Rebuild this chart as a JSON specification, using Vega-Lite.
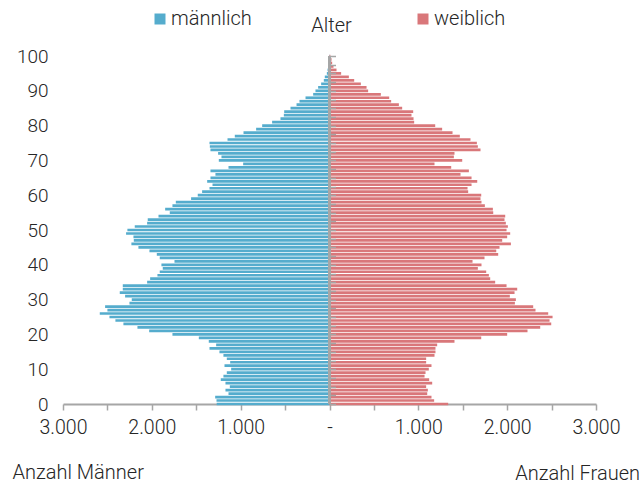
{
  "$schema": "https://vega.github.io/schema/vega-lite/v6.json",
  "width": 533,
  "height": 348,
  "autosize": {"type": "none"},
  "padding": {"left": 63, "top": 56, "right": 48, "bottom": 80},
  "background": "white",
  "config": {"font": "Roboto", "view": {"stroke": null}},
  "title": {"text": "Anzahl Frauen", "orient": "bottom", "anchor": "end", "frame": "group", "fontSize": 20, "fontWeight": 300, "color": "#262626", "dx": 44, "dy": -18, "offset": 0},
  "data": {"values": [
    {"Alter":100,"Geschlecht":"männlich","Anzahl":-5},{"Alter":99,"Geschlecht":"männlich","Anzahl":-8},{"Alter":98,"Geschlecht":"männlich","Anzahl":-12},{"Alter":97,"Geschlecht":"männlich","Anzahl":-16},{"Alter":96,"Geschlecht":"männlich","Anzahl":-22},
    {"Alter":95,"Geschlecht":"männlich","Anzahl":-30},{"Alter":94,"Geschlecht":"männlich","Anzahl":-53},{"Alter":93,"Geschlecht":"männlich","Anzahl":-64},{"Alter":92,"Geschlecht":"männlich","Anzahl":-94},{"Alter":91,"Geschlecht":"männlich","Anzahl":-128},
    {"Alter":90,"Geschlecht":"männlich","Anzahl":-158},{"Alter":89,"Geschlecht":"männlich","Anzahl":-184},{"Alter":88,"Geschlecht":"männlich","Anzahl":-270},{"Alter":87,"Geschlecht":"männlich","Anzahl":-338},{"Alter":86,"Geschlecht":"männlich","Anzahl":-371},
    {"Alter":85,"Geschlecht":"männlich","Anzahl":-439},{"Alter":84,"Geschlecht":"männlich","Anzahl":-510},{"Alter":83,"Geschlecht":"männlich","Anzahl":-514},{"Alter":82,"Geschlecht":"männlich","Anzahl":-552},{"Alter":81,"Geschlecht":"männlich","Anzahl":-646},
    {"Alter":80,"Geschlecht":"männlich","Anzahl":-758},{"Alter":79,"Geschlecht":"männlich","Anzahl":-826},{"Alter":78,"Geschlecht":"männlich","Anzahl":-968},{"Alter":77,"Geschlecht":"männlich","Anzahl":-1066},{"Alter":76,"Geschlecht":"männlich","Anzahl":-1148},
    {"Alter":75,"Geschlecht":"männlich","Anzahl":-1351},{"Alter":74,"Geschlecht":"männlich","Anzahl":-1347},{"Alter":73,"Geschlecht":"männlich","Anzahl":-1340},{"Alter":72,"Geschlecht":"männlich","Anzahl":-1254},{"Alter":71,"Geschlecht":"männlich","Anzahl":-1216},
    {"Alter":70,"Geschlecht":"männlich","Anzahl":-1246},{"Alter":69,"Geschlecht":"männlich","Anzahl":-972},{"Alter":68,"Geschlecht":"männlich","Anzahl":-1137},{"Alter":67,"Geschlecht":"männlich","Anzahl":-1340},{"Alter":66,"Geschlecht":"männlich","Anzahl":-1284},
    {"Alter":65,"Geschlecht":"männlich","Anzahl":-1340},{"Alter":64,"Geschlecht":"männlich","Anzahl":-1377},{"Alter":63,"Geschlecht":"männlich","Anzahl":-1317},{"Alter":62,"Geschlecht":"männlich","Anzahl":-1351},{"Alter":61,"Geschlecht":"männlich","Anzahl":-1434},
    {"Alter":60,"Geschlecht":"männlich","Anzahl":-1483},{"Alter":59,"Geschlecht":"männlich","Anzahl":-1558},{"Alter":58,"Geschlecht":"männlich","Anzahl":-1730},{"Alter":57,"Geschlecht":"männlich","Anzahl":-1768},{"Alter":56,"Geschlecht":"männlich","Anzahl":-1850},
    {"Alter":55,"Geschlecht":"männlich","Anzahl":-1798},{"Alter":54,"Geschlecht":"männlich","Anzahl":-1925},{"Alter":53,"Geschlecht":"männlich","Anzahl":-2046},{"Alter":52,"Geschlecht":"männlich","Anzahl":-2053},{"Alter":51,"Geschlecht":"männlich","Anzahl":-2192},
    {"Alter":50,"Geschlecht":"männlich","Anzahl":-2275},{"Alter":49,"Geschlecht":"männlich","Anzahl":-2290},{"Alter":48,"Geschlecht":"männlich","Anzahl":-2207},{"Alter":47,"Geschlecht":"männlich","Anzahl":-2203},{"Alter":46,"Geschlecht":"männlich","Anzahl":-2230},
    {"Alter":45,"Geschlecht":"männlich","Anzahl":-2151},{"Alter":44,"Geschlecht":"männlich","Anzahl":-2027},{"Alter":43,"Geschlecht":"männlich","Anzahl":-1944},{"Alter":42,"Geschlecht":"männlich","Anzahl":-1911},{"Alter":41,"Geschlecht":"männlich","Anzahl":-1745},
    {"Alter":40,"Geschlecht":"männlich","Anzahl":-1892},{"Alter":39,"Geschlecht":"männlich","Anzahl":-1877},{"Alter":38,"Geschlecht":"männlich","Anzahl":-1911},{"Alter":37,"Geschlecht":"männlich","Anzahl":-1937},{"Alter":36,"Geschlecht":"männlich","Anzahl":-2019},
    {"Alter":35,"Geschlecht":"männlich","Anzahl":-2053},{"Alter":34,"Geschlecht":"männlich","Anzahl":-2327},{"Alter":33,"Geschlecht":"männlich","Anzahl":-2327},{"Alter":32,"Geschlecht":"männlich","Anzahl":-2361},{"Alter":31,"Geschlecht":"männlich","Anzahl":-2301},
    {"Alter":30,"Geschlecht":"männlich","Anzahl":-2226},{"Alter":29,"Geschlecht":"männlich","Anzahl":-2252},{"Alter":28,"Geschlecht":"männlich","Anzahl":-2526},{"Alter":27,"Geschlecht":"männlich","Anzahl":-2500},{"Alter":26,"Geschlecht":"männlich","Anzahl":-2586},
    {"Alter":25,"Geschlecht":"männlich","Anzahl":-2477},{"Alter":24,"Geschlecht":"männlich","Anzahl":-2410},{"Alter":23,"Geschlecht":"männlich","Anzahl":-2320},{"Alter":22,"Geschlecht":"männlich","Anzahl":-2162},{"Alter":21,"Geschlecht":"männlich","Anzahl":-2030},
    {"Alter":20,"Geschlecht":"männlich","Anzahl":-1768},{"Alter":19,"Geschlecht":"männlich","Anzahl":-1471},{"Alter":18,"Geschlecht":"männlich","Anzahl":-1359},{"Alter":17,"Geschlecht":"männlich","Anzahl":-1276},{"Alter":16,"Geschlecht":"männlich","Anzahl":-1351},
    {"Alter":15,"Geschlecht":"männlich","Anzahl":-1239},{"Alter":14,"Geschlecht":"männlich","Anzahl":-1194},{"Alter":13,"Geschlecht":"männlich","Anzahl":-1156},{"Alter":12,"Geschlecht":"männlich","Anzahl":-1118},{"Alter":11,"Geschlecht":"männlich","Anzahl":-1182},
    {"Alter":10,"Geschlecht":"männlich","Anzahl":-1107},{"Alter":9,"Geschlecht":"männlich","Anzahl":-1156},{"Alter":8,"Geschlecht":"männlich","Anzahl":-1194},{"Alter":7,"Geschlecht":"männlich","Anzahl":-1224},{"Alter":6,"Geschlecht":"männlich","Anzahl":-1171},
    {"Alter":5,"Geschlecht":"männlich","Anzahl":-1122},{"Alter":4,"Geschlecht":"männlich","Anzahl":-1171},{"Alter":3,"Geschlecht":"männlich","Anzahl":-1137},{"Alter":2,"Geschlecht":"männlich","Anzahl":-1287},{"Alter":1,"Geschlecht":"männlich","Anzahl":-1272},
    {"Alter":0,"Geschlecht":"männlich","Anzahl":-1270},
    {"Alter":100,"Geschlecht":"weiblich","Anzahl":10},{"Alter":99,"Geschlecht":"weiblich","Anzahl":23},{"Alter":98,"Geschlecht":"weiblich","Anzahl":30},{"Alter":97,"Geschlecht":"weiblich","Anzahl":45},{"Alter":96,"Geschlecht":"weiblich","Anzahl":79},
    {"Alter":95,"Geschlecht":"weiblich","Anzahl":131},{"Alter":94,"Geschlecht":"weiblich","Anzahl":218},{"Alter":93,"Geschlecht":"weiblich","Anzahl":278},{"Alter":92,"Geschlecht":"weiblich","Anzahl":353},{"Alter":91,"Geschlecht":"weiblich","Anzahl":417},
    {"Alter":90,"Geschlecht":"weiblich","Anzahl":435},{"Alter":89,"Geschlecht":"weiblich","Anzahl":578},{"Alter":88,"Geschlecht":"weiblich","Anzahl":672},{"Alter":87,"Geschlecht":"weiblich","Anzahl":694},{"Alter":86,"Geschlecht":"weiblich","Anzahl":781},
    {"Alter":85,"Geschlecht":"weiblich","Anzahl":818},{"Alter":84,"Geschlecht":"weiblich","Anzahl":942},{"Alter":83,"Geschlecht":"weiblich","Anzahl":923},{"Alter":82,"Geschlecht":"weiblich","Anzahl":946},{"Alter":81,"Geschlecht":"weiblich","Anzahl":953},
    {"Alter":80,"Geschlecht":"weiblich","Anzahl":1190},{"Alter":79,"Geschlecht":"weiblich","Anzahl":1268},{"Alter":78,"Geschlecht":"weiblich","Anzahl":1385},{"Alter":77,"Geschlecht":"weiblich","Anzahl":1467},{"Alter":76,"Geschlecht":"weiblich","Anzahl":1587},
    {"Alter":75,"Geschlecht":"weiblich","Anzahl":1659},{"Alter":74,"Geschlecht":"weiblich","Anzahl":1670},{"Alter":73,"Geschlecht":"weiblich","Anzahl":1700},{"Alter":72,"Geschlecht":"weiblich","Anzahl":1407},{"Alter":71,"Geschlecht":"weiblich","Anzahl":1400},
    {"Alter":70,"Geschlecht":"weiblich","Anzahl":1494},{"Alter":69,"Geschlecht":"weiblich","Anzahl":1182},{"Alter":68,"Geschlecht":"weiblich","Anzahl":1370},{"Alter":67,"Geschlecht":"weiblich","Anzahl":1569},{"Alter":66,"Geschlecht":"weiblich","Anzahl":1475},
    {"Alter":65,"Geschlecht":"weiblich","Anzahl":1599},{"Alter":64,"Geschlecht":"weiblich","Anzahl":1663},{"Alter":63,"Geschlecht":"weiblich","Anzahl":1599},{"Alter":62,"Geschlecht":"weiblich","Anzahl":1554},{"Alter":61,"Geschlecht":"weiblich","Anzahl":1561},
    {"Alter":60,"Geschlecht":"weiblich","Anzahl":1708},{"Alter":59,"Geschlecht":"weiblich","Anzahl":1700},{"Alter":58,"Geschlecht":"weiblich","Anzahl":1711},{"Alter":57,"Geschlecht":"weiblich","Anzahl":1749},{"Alter":56,"Geschlecht":"weiblich","Anzahl":1839},
    {"Alter":55,"Geschlecht":"weiblich","Anzahl":1843},{"Alter":54,"Geschlecht":"weiblich","Anzahl":1978},{"Alter":53,"Geschlecht":"weiblich","Anzahl":1970},{"Alter":52,"Geschlecht":"weiblich","Anzahl":1985},{"Alter":51,"Geschlecht":"weiblich","Anzahl":2008},
    {"Alter":50,"Geschlecht":"weiblich","Anzahl":1993},{"Alter":49,"Geschlecht":"weiblich","Anzahl":2034},{"Alter":48,"Geschlecht":"weiblich","Anzahl":2000},{"Alter":47,"Geschlecht":"weiblich","Anzahl":1944},{"Alter":46,"Geschlecht":"weiblich","Anzahl":2042},
    {"Alter":45,"Geschlecht":"weiblich","Anzahl":1914},{"Alter":44,"Geschlecht":"weiblich","Anzahl":1877},{"Alter":43,"Geschlecht":"weiblich","Anzahl":1899},{"Alter":42,"Geschlecht":"weiblich","Anzahl":1745},{"Alter":41,"Geschlecht":"weiblich","Anzahl":1610},
    {"Alter":40,"Geschlecht":"weiblich","Anzahl":1711},{"Alter":39,"Geschlecht":"weiblich","Anzahl":1670},{"Alter":38,"Geschlecht":"weiblich","Anzahl":1764},{"Alter":37,"Geschlecht":"weiblich","Anzahl":1794},{"Alter":36,"Geschlecht":"weiblich","Anzahl":1809},
    {"Alter":35,"Geschlecht":"weiblich","Anzahl":1865},{"Alter":34,"Geschlecht":"weiblich","Anzahl":1993},{"Alter":33,"Geschlecht":"weiblich","Anzahl":2113},{"Alter":32,"Geschlecht":"weiblich","Anzahl":2083},{"Alter":31,"Geschlecht":"weiblich","Anzahl":2030},
    {"Alter":30,"Geschlecht":"weiblich","Anzahl":2098},{"Alter":29,"Geschlecht":"weiblich","Anzahl":2087},{"Alter":28,"Geschlecht":"weiblich","Anzahl":2293},{"Alter":27,"Geschlecht":"weiblich","Anzahl":2319},{"Alter":26,"Geschlecht":"weiblich","Anzahl":2462},
    {"Alter":25,"Geschlecht":"weiblich","Anzahl":2511},{"Alter":24,"Geschlecht":"weiblich","Anzahl":2477},{"Alter":23,"Geschlecht":"weiblich","Anzahl":2496},{"Alter":22,"Geschlecht":"weiblich","Anzahl":2372},{"Alter":21,"Geschlecht":"weiblich","Anzahl":2229},
    {"Alter":20,"Geschlecht":"weiblich","Anzahl":2000},{"Alter":19,"Geschlecht":"weiblich","Anzahl":1708},{"Alter":18,"Geschlecht":"weiblich","Anzahl":1407},{"Alter":17,"Geschlecht":"weiblich","Anzahl":1212},{"Alter":16,"Geschlecht":"weiblich","Anzahl":1193},
    {"Alter":15,"Geschlecht":"weiblich","Anzahl":1193},{"Alter":14,"Geschlecht":"weiblich","Anzahl":1182},{"Alter":13,"Geschlecht":"weiblich","Anzahl":1088},{"Alter":12,"Geschlecht":"weiblich","Anzahl":1088},{"Alter":11,"Geschlecht":"weiblich","Anzahl":1148},
    {"Alter":10,"Geschlecht":"weiblich","Anzahl":1118},{"Alter":9,"Geschlecht":"weiblich","Anzahl":1081},{"Alter":8,"Geschlecht":"weiblich","Anzahl":1070},{"Alter":7,"Geschlecht":"weiblich","Anzahl":1122},{"Alter":6,"Geschlecht":"weiblich","Anzahl":1156},
    {"Alter":5,"Geschlecht":"weiblich","Anzahl":1088},{"Alter":4,"Geschlecht":"weiblich","Anzahl":1107},{"Alter":3,"Geschlecht":"weiblich","Anzahl":1100},{"Alter":2,"Geschlecht":"weiblich","Anzahl":1148},{"Alter":1,"Geschlecht":"weiblich","Anzahl":1178},
    {"Alter":0,"Geschlecht":"weiblich","Anzahl":1336}
  ]},
  "layer": [
    {
      "mark": {"type": "bar", "orient": "horizontal", "size": 2.7, "opacity": 1},
      "encoding": {
        "x": {"field": "Anzahl", "type": "quantitative",
          "scale": {"domain": [-3000, 3000], "nice": false, "zero": false},
          "axis": {"values": [-3000,-2750,-2500,-2250,-2000,-1750,-1500,-1250,-1000,-750,-500,-250,0,250,500,750,1000,1250,1500,1750,2000,2250,2500,2750,3000],
            "labelExpr": "datum.value % 1000 != 0 ? '' : (datum.value == 0 ? '-' : replace(format(abs(datum.value), ','), ',', '.'))",
            "labelFlush": false, "labelOverlap": false,
            "grid": false, "domainColor": "#A6A6A6", "domainWidth": 2, "tickColor": "#A6A6A6", "tickWidth": 1.5, "tickSize": 6,
            "labelFontSize": 19.5, "labelFontWeight": 300, "labelColor": "#262626", "labelPadding": 8,
            "title": "Anzahl Männer", "titleFontSize": 20, "titleFontWeight": 300, "titleColor": "#262626",
            "titleAnchor": "start", "titleAlign": "left", "titleX": -51, "titleY": 68, "titleBaseline": "middle"}},
        "y": {"field": "Alter", "type": "quantitative",
          "scale": {"domain": [0, 100], "nice": false, "padding": 0},
          "axis": {"values": [0,10,20,30,40,50,60,70,80,90,100], "grid": false, "domain": false, "ticks": false,
            "labelFlush": false, "labelOverlap": false,
            "labelFontSize": 19, "labelFontWeight": 300, "labelColor": "#262626", "labelPadding": 15,
            "title": "Alter", "titleAngle": 0, "titleFontSize": 20, "titleFontWeight": 300, "titleColor": "#262626",
            "titleX": 268, "titleY": -31, "titleAlign": "center", "titleBaseline": "middle"}},
        "color": {"field": "Geschlecht", "type": "nominal",
          "scale": {"domain": ["männlich", "weiblich"], "range": ["#55ACCD", "#D9777A"]},
          "legend": {"orient": "none", "direction": "horizontal", "legendX": 87, "legendY": -47, "title": null,
            "symbolType": "square", "symbolSize": 121, "symbolStrokeWidth": 0, "labelFontSize": 20, "labelFontWeight": 300, "labelColor": "#262626",
            "columnPadding": 161, "labelOffset": 1, "padding": 0}}
      }
    },
    {
      "mark": {"type": "rule", "color": "#A6A6A6", "strokeWidth": 2},
      "encoding": {
        "x": {"datum": 0, "type": "quantitative"},
        "y": {"datum": 0, "type": "quantitative",
          "axis": {"orient": "right", "offset": -266.5, "zindex": 2, "values": [0,2.5,5,7.5,10,12.5,15,17.5,20,22.5,25,27.5,30,32.5,35,37.5,40,42.5,45,47.5,50,52.5,55,57.5,60,62.5,65,67.5,70,72.5,75,77.5,80,82.5,85,87.5,90,92.5,95,97.5,100],
            "labels": false, "domain": false, "grid": false, "ticks": true, "tickSize": 6, "tickColor": "#A6A6A6", "tickWidth": 1.5, "title": null}},
        "y2": {"datum": 100}
      }
    }
  ],
  "resolve": {"axis": {"y": "independent"}}
}
